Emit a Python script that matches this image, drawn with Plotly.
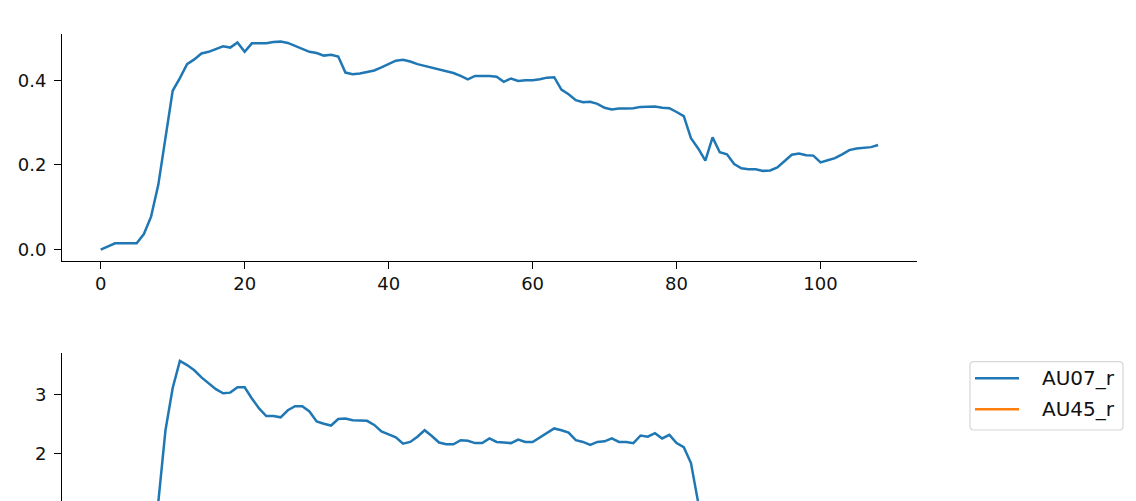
import plotly.graph_objects as go
from plotly.subplots import make_subplots

# top panel: AU07_r intensity per frame
frames_top = list(range(109))
au07_top = [
    0.000, 0.008, 0.015, 0.015, 0.015, 0.015, 0.037, 0.078, 0.153, 0.265,
    0.375, 0.405, 0.438, 0.449, 0.463, 0.467, 0.474, 0.480, 0.477, 0.489,
    0.467, 0.487, 0.487, 0.487, 0.490, 0.491, 0.488, 0.481, 0.473, 0.467,
    0.464, 0.458, 0.460, 0.456, 0.418, 0.414, 0.416, 0.420, 0.423, 0.430,
    0.438, 0.446, 0.448, 0.444, 0.438, 0.434, 0.430, 0.426, 0.421, 0.417,
    0.410, 0.402, 0.410, 0.410, 0.410, 0.408, 0.396, 0.404, 0.398, 0.400,
    0.400, 0.402, 0.406, 0.407, 0.378, 0.367, 0.353, 0.348, 0.349, 0.344,
    0.335, 0.331, 0.333, 0.333, 0.334, 0.337, 0.337, 0.338, 0.335, 0.334,
    0.325, 0.315, 0.263, 0.239, 0.210, 0.265, 0.230, 0.225, 0.202, 0.192,
    0.190, 0.190, 0.186, 0.187, 0.194, 0.210, 0.224, 0.227, 0.223, 0.222,
    0.206, 0.211, 0.216, 0.225, 0.235, 0.239, 0.240, 0.242, 0.247,
]

# bottom panel: only the visible part (frames 8..83)
frames_bottom = list(range(8, 84))
au07_bottom = [
    1.17, 2.40, 3.12, 3.58, 3.51, 3.42, 3.30, 3.20, 3.10, 3.03,
    3.04, 3.13, 3.13, 2.94, 2.77, 2.64, 2.64, 2.62, 2.74, 2.81,
    2.81, 2.72, 2.55, 2.51, 2.48, 2.59, 2.60, 2.57, 2.56, 2.56,
    2.49, 2.38, 2.33, 2.28, 2.17, 2.20, 2.29, 2.40, 2.30, 2.19,
    2.16, 2.16, 2.23, 2.22, 2.18, 2.18, 2.26, 2.20, 2.19, 2.18,
    2.24, 2.20, 2.20, 2.28, 2.36, 2.43, 2.40, 2.36, 2.23, 2.20,
    2.15, 2.20, 2.21, 2.26, 2.20, 2.20, 2.18, 2.31, 2.29, 2.35,
    2.26, 2.32, 2.18, 2.11, 1.84, 1.17,
]

legend_names = ["AU07_r", "AU45_r"]
legend_colors = ["#1f77b4", "#ff7f0e"]

BLUE = legend_colors[0]
OFF = 8                      # page body margin
W, H = 1136 - OFF, 501 - OFF


def px(x):                   # page pixel -> paper x
    return (x - OFF) / W


def py(y):                   # page pixel -> paper y
    return (H - (y - OFF)) / H


fig = make_subplots(rows=2, cols=1)

fig.add_trace(go.Scatter(x=frames_top, y=au07_top, mode="lines",
                         line=dict(color=BLUE, width=2.5), showlegend=False),
              row=1, col=1)
fig.add_trace(go.Scatter(x=frames_bottom, y=au07_bottom, mode="lines",
                         line=dict(color=BLUE, width=2.5), name="AU07_r",
                         showlegend=False),
              row=2, col=1)

axis_style = dict(showline=True, linecolor="black", linewidth=1.1,
                  ticks="outside", ticklen=7, tickwidth=1.1, tickcolor="black",
                  showgrid=False, zeroline=False,
                  tickfont=dict(family="DejaVu Sans", size=18, color="#111"))

xdom = [px(62), px(917)]

# legend box (matplotlib style, outside the lower axes)
x0, x1, y0, y1 = px(970), px(1123), py(430), py(361.7)
rx, ry = 4 / W, 4 / H
frame = (f"M {x0 + rx},{y0} L {x1 - rx},{y0} Q {x1},{y0} {x1},{y0 + ry} "
         f"L {x1},{y1 - ry} Q {x1},{y1} {x1 - rx},{y1} L {x0 + rx},{y1} "
         f"Q {x0},{y1} {x0},{y1 - ry} L {x0},{y0 + ry} Q {x0},{y0} {x0 + rx},{y0} Z")
shapes = [dict(type="path", xref="paper", yref="paper", path=frame,
               line=dict(color="#d6d6d6", width=1.2), fillcolor="white",
               layer="below")]
annotations = []
for k, (name, col) in enumerate(zip(legend_names, legend_colors)):
    yrow = py(378.3 + 31 * k)
    shapes.append(dict(type="line", xref="paper", yref="paper",
                       x0=px(975), x1=px(1019), y0=yrow, y1=yrow,
                       line=dict(color=col, width=2.5)))
    annotations.append(dict(text=name, xref="paper", yref="paper",
                            x=px(1040), y=yrow, xanchor="left", yanchor="middle",
                            showarrow=False,
                            font=dict(family="DejaVu Sans", size=20, color="#111")))

fig.update_layout(
    width=W, height=H,
    margin=dict(l=0, r=0, t=0, b=0),
    plot_bgcolor="white", paper_bgcolor="white",
    showlegend=False,
    font=dict(family="DejaVu Sans", color="#111"),
    xaxis=dict(domain=xdom, range=[-5.375, 113.4], tickvals=[0, 20, 40, 60, 80, 100],
               anchor="y", **axis_style),
    yaxis=dict(domain=[py(260.7), py(34)], range=[-0.026, 0.509],
               tickvals=[0.0, 0.2, 0.4], tickformat=".1f", anchor="x",
               ticklabelstandoff=4, **axis_style),
    xaxis2=dict(domain=xdom, range=[-5.375, 113.4], visible=False, anchor="y2"),
    yaxis2=dict(domain=[0, py(353.3)], range=[1.194, 3.710],
                tickvals=[2, 3], anchor="x2", ticklabelstandoff=4, **axis_style),
    shapes=shapes,
    annotations=annotations,
)

fig.write_html("out.html")
